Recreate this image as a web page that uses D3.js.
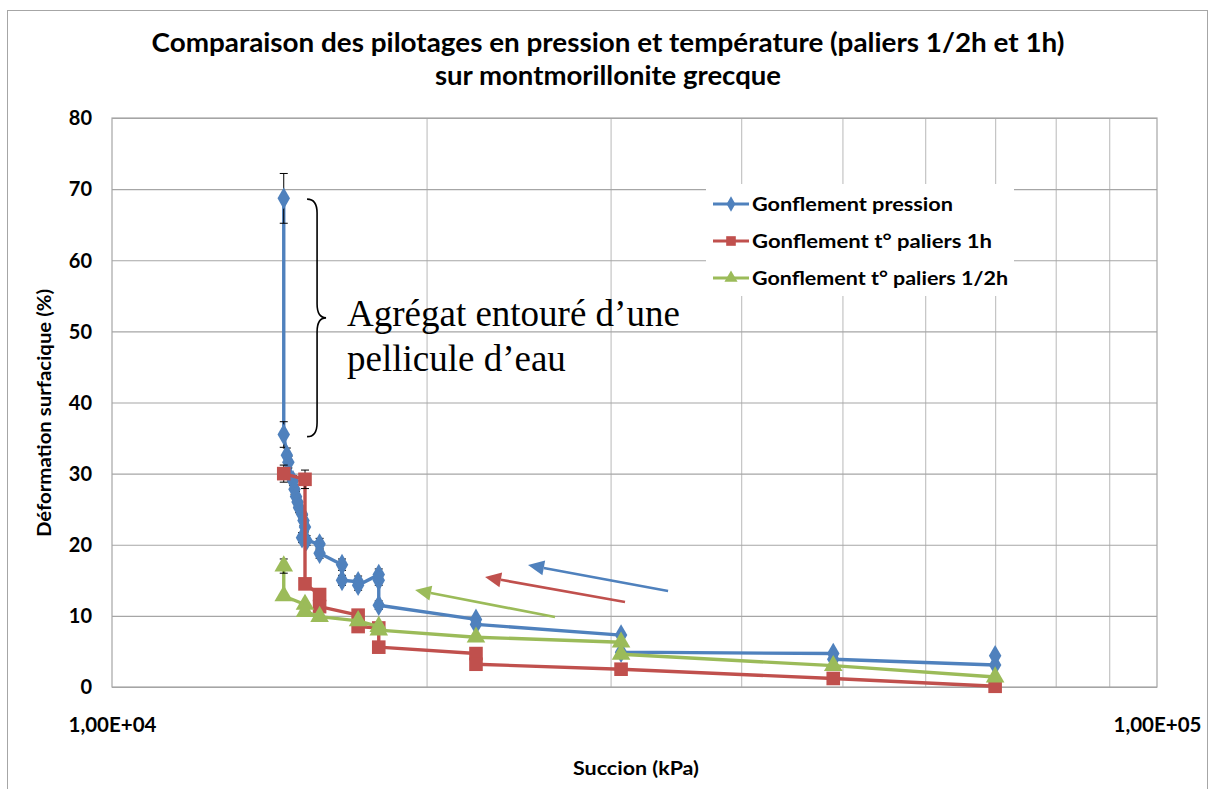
<!DOCTYPE html>
<html>
<head>
<meta charset="utf-8">
<script src="https://cdn.jsdelivr.net/npm/d3@7"></script>
<style>
  html, body { margin: 0; padding: 0; background: #fff; }
  svg { display: block; }
  .lbl { font-family: Lato, "Open Sans", sans-serif; font-weight: bold; fill: #000; }
</style>
</head>
<body>
<svg id="chart" width="1210" height="789"></svg>
<script>
// Gonflement piloté en pression : succion (kPa), déformation (%), écart (±%)
const succionPression = [14600, 14600, 14700, 14750, 14900, 14950, 15000, 15050, 15100, 15200, 15250, 15300, 15200, 15350,
  15800, 15800, 16600, 16600, 17200, 17200, 18000, 18000, 18000, 22300, 22300, 30700, 30700, 49000, 49000, 70000, 70000];
const deformationPression = [68.7, 35.5, 32.6, 31.6, 29.0, 27.8, 26.8, 26.0, 25.2, 24.3, 23.4, 22.5, 21.0, 20.6,
  20.1, 18.8, 17.2, 15.0, 14.8, 14.3, 15.8, 15.0, 11.5, 9.5, 8.8, 7.3, 4.9, 4.7, 3.9, 3.1, 4.4];
const erreurPression = [3.5, 1.8, 1.0, 0.8, 0.7, 0.7, 0.7, 0.7, 0.7, 0.7, 0.7, 0.7, 0.7, 0.7,
  0.8, 0.7, 0.8, 0.7, 0.8, 0.7, 0.8, 0.7, 0.6, 0.4, 0.3, 0.2, 0, 0.2, 0, 0, 0];

// Gonflement piloté en température, paliers de 1 h
const succion1h = [14600, 15300, 15300, 15800, 15800, 17200, 17200, 18000, 18000, 22300, 22300, 30700, 49000, 70000];
const deformation1h = [30.0, 29.2, 14.5, 13.0, 11.3, 10.1, 8.5, 8.3, 5.6, 4.7, 3.2, 2.5, 1.2, 0.1];
const erreur1h = [1.2, 1.3, 0, 0.4, 0, 0.3, 0, 0, 0, 0, 0, 0, 0, 0];

// Gonflement piloté en température, paliers de 1/2 h
const succionDemiH = [14600, 14600, 15300, 15300, 15800, 17200, 18000, 18000, 22300, 30700, 30700, 49000, 70000];
const deformationDemiH = [17.0, 12.8, 11.6, 10.6, 9.9, 9.3, 8.5, 8.0, 7.0, 6.3, 4.6, 3.0, 1.4];
const erreurDemiH = [1.0, 0, 0.3, 0, 0, 0, 0, 0, 0, 0, 0, 0, 0];

const seriesNames = ["Gonflement pression", "Gonflement t° paliers 1h", "Gonflement t° paliers 1/2h"];
const seriesColors = ["#4f81bd", "#c0504d", "#9bbb59"];
const seriesMarkers = ["diamond", "square", "triangle"];

const yTicks = [0, 10, 20, 30, 40, 50, 60, 70, 80];
const xGridValues = [20000, 30000, 40000, 50000, 60000, 70000, 80000, 90000];
const xLabelValues = [10000, 100000];

// Flèches indiquant le sens du chemin (humidification)
const arrowFromSuccion = [34050, 30970, 26540];
const arrowFromDef = [13.5, 11.95, 9.84];
const arrowToSuccion = [25010, 22750, 19500];
const arrowToDef = [17.15, 15.47, 13.64];

const titleLines = ["Comparaison des pilotages en pression et température (paliers 1/2h et 1h)",
  "sur montmorillonite grecque"];
const noteLines = ["Agrégat entouré d’une", "pellicule d’eau"];

const svg = d3.select("#chart");
const plotL = 112, plotR = 1157, plotT = 118, plotB = 687;
const x = d3.scaleLog().domain([1e4, 1e5]).range([plotL, plotR]);
const y = d3.scaleLinear().domain([0, 80]).range([plotB, plotT]);

// Cadre extérieur du graphique
svg.append("rect").attr("x", 7.5).attr("y", 10.5).attr("width", 1200).attr("height", 800)
  .attr("fill", "#fff").attr("stroke", "#a6a6a6").attr("stroke-width", 1);

// Titre
const titleWidths = [913, 346];
titleLines.forEach((t, i) => {
  svg.append("text").attr("class", "lbl")
    .attr("x", 608).attr("y", 52 + i * 33)
    .attr("text-anchor", "middle").attr("font-size", 26)
    .attr("textLength", titleWidths[i]).attr("lengthAdjust", "spacingAndGlyphs")
    .text(t);
});

// Quadrillage vertical (décades mineures)
const gx = svg.append("g").attr("transform", `translate(0,${plotB})`)
  .call(d3.axisBottom(x).tickValues(xGridValues).tickSize(-(plotB - plotT)).tickFormat(""));
gx.select(".domain").remove();
gx.selectAll(".tick line").attr("stroke", "#c4c4c4").attr("stroke-width", 1.2);

// Quadrillage horizontal + graduations Y
const gy = svg.append("g").attr("transform", `translate(${plotL},0)`)
  .call(d3.axisLeft(y).tickValues(yTicks).tickSize(-(plotR - plotL)).tickPadding(20));
gy.select(".domain").remove();
gy.selectAll(".tick line").attr("stroke", "#a6a6a6").attr("stroke-width", 1.2);
gy.selectAll(".tick text").attr("class", "lbl").attr("font-size", 20).attr("dy", "0.34em");

// Bordure de la zone de tracé
svg.append("rect").attr("x", plotL).attr("y", plotT).attr("width", plotR - plotL).attr("height", plotB - plotT)
  .attr("fill", "none").attr("stroke", "#a6a6a6").attr("stroke-width", 1.2);

// Graduations X
const sci = d => {
  const [m, e] = d3.format(".2e")(d).split("e");
  const ex = +e;
  return m.replace(".", ",") + "E" + (ex >= 0 ? "+" : "-") + String(Math.abs(ex)).padStart(2, "0");
};
const gxl = svg.append("g").attr("transform", `translate(0,${plotB})`)
  .call(d3.axisBottom(x).tickValues(xLabelValues).tickSize(0).tickPadding(30).tickFormat(sci));
gxl.select(".domain").remove();
gxl.selectAll(".tick text").attr("class", "lbl").attr("font-size", 20.5).attr("dy", "0.71em");

// Titres des axes
svg.append("text").attr("class", "lbl").attr("x", 636).attr("y", 775)
  .attr("text-anchor", "middle").attr("font-size", 18)
  .attr("textLength", 126).attr("lengthAdjust", "spacingAndGlyphs").text("Succion (kPa)");
svg.append("text").attr("class", "lbl")
  .attr("transform", "translate(51,413) rotate(-90)")
  .attr("text-anchor", "middle").attr("font-size", 18)
  .attr("textLength", 248).attr("lengthAdjust", "spacingAndGlyphs").text("Déformation surfacique (%)");

// Symboles
const symType = { diamond: d3.symbolDiamond, square: d3.symbolSquare, triangle: d3.symbolTriangle };
const symSize = { diamond: 135, square: 185, triangle: 150 };

function drawSeries(xs, ys, errs, i) {
  const pts = xs.map((s, k) => ({ s, d: ys[k], e: errs[k] }));
  const g = svg.append("g");
  g.append("path").datum(pts)
    .attr("d", d3.line().x(p => x(p.s)).y(p => y(p.d)))
    .attr("fill", "none").attr("stroke", seriesColors[i]).attr("stroke-width", 3.4)
    .attr("stroke-linejoin", "round");
  const eb = g.append("g").attr("stroke", "#000").attr("stroke-width", 1);
  pts.filter(p => p.e > 0).forEach(p => {
    const cx = x(p.s), y1 = y(p.d + p.e), y2 = y(p.d - p.e);
    eb.append("line").attr("x1", cx).attr("x2", cx).attr("y1", y1).attr("y2", y2);
    eb.append("line").attr("x1", cx - 4).attr("x2", cx + 4).attr("y1", y1).attr("y2", y1);
    eb.append("line").attr("x1", cx - 4).attr("x2", cx + 4).attr("y1", y2).attr("y2", y2);
  });
  const m = seriesMarkers[i];
  g.selectAll("path.mk").data(pts).join("path").attr("class", "mk")
    .attr("transform", p => `translate(${x(p.s)},${y(p.d)})`)
    .attr("d", d3.symbol().type(symType[m]).size(symSize[m]))
    .attr("fill", seriesColors[i]);
}

drawSeries(succionPression, deformationPression, erreurPression, 0);
drawSeries(succion1h, deformation1h, erreur1h, 1);
drawSeries(succionDemiH, deformationDemiH, erreurDemiH, 2);

// Flèches
arrowFromSuccion.forEach((s, i) => {
  const x1 = x(s), y1 = y(arrowFromDef[i]);
  const x2 = x(arrowToSuccion[i]), y2 = y(arrowToDef[i]);
  const ang = Math.atan2(y2 - y1, x2 - x1);
  const L = 16, W = 7.5;
  const hx = x2 - L * Math.cos(ang), hy = y2 - L * Math.sin(ang);
  svg.append("line").attr("x1", x1).attr("y1", y1).attr("x2", hx).attr("y2", hy)
    .attr("stroke", seriesColors[i]).attr("stroke-width", 2.6);
  const px = -Math.sin(ang) * W, py = Math.cos(ang) * W;
  svg.append("path")
    .attr("d", `M${x2},${y2}L${hx + px},${hy + py}L${hx - px},${hy - py}Z`)
    .attr("fill", seriesColors[i]);
});

// Accolade et annotation
const bx0 = x(15370), bTop = y(68.6), bBot = y(35.2), bMid = (bTop + bBot) / 2;
const bw = 10, tip = 19;
svg.append("path")
  .attr("d", `M${bx0},${bTop} Q${bx0 + bw},${bTop} ${bx0 + bw},${bTop + 14}
    L${bx0 + bw},${bMid - 14} Q${bx0 + bw},${bMid} ${bx0 + tip},${bMid}
    Q${bx0 + bw},${bMid} ${bx0 + bw},${bMid + 14}
    L${bx0 + bw},${bBot - 14} Q${bx0 + bw},${bBot} ${bx0},${bBot}`)
  .attr("fill", "none").attr("stroke", "#000").attr("stroke-width", 1.6);
noteLines.forEach((t, i) => {
  svg.append("text").attr("x", 347).attr("y", 326 + i * 45)
    .attr("font-family", "'Liberation Serif', 'Times New Roman', serif")
    .attr("font-size", 37).attr("fill", "#000").text(t);
});

// Légende
const lg = svg.append("g");
lg.append("rect").attr("x", 706).attr("y", 184).attr("width", 308).attr("height", 112).attr("fill", "#fff");
const legendWidths = [201, 240, 256];
seriesNames.forEach((n, i) => {
  const ry = 204 + i * 37;
  lg.append("line").attr("x1", 713).attr("x2", 749).attr("y1", ry).attr("y2", ry)
    .attr("stroke", seriesColors[i]).attr("stroke-width", 3.2);
  const m = seriesMarkers[i];
  lg.append("path").attr("transform", `translate(731,${ry})`)
    .attr("d", d3.symbol().type(symType[m]).size(symSize[m] * 0.5)).attr("fill", seriesColors[i]);
  lg.append("text").attr("class", "lbl").attr("x", 752).attr("y", ry).attr("dy", "0.36em")
    .attr("font-size", 19).attr("textLength", legendWidths[i]).attr("lengthAdjust", "spacingAndGlyphs")
    .text(n);
});
</script>
</body>
</html>
